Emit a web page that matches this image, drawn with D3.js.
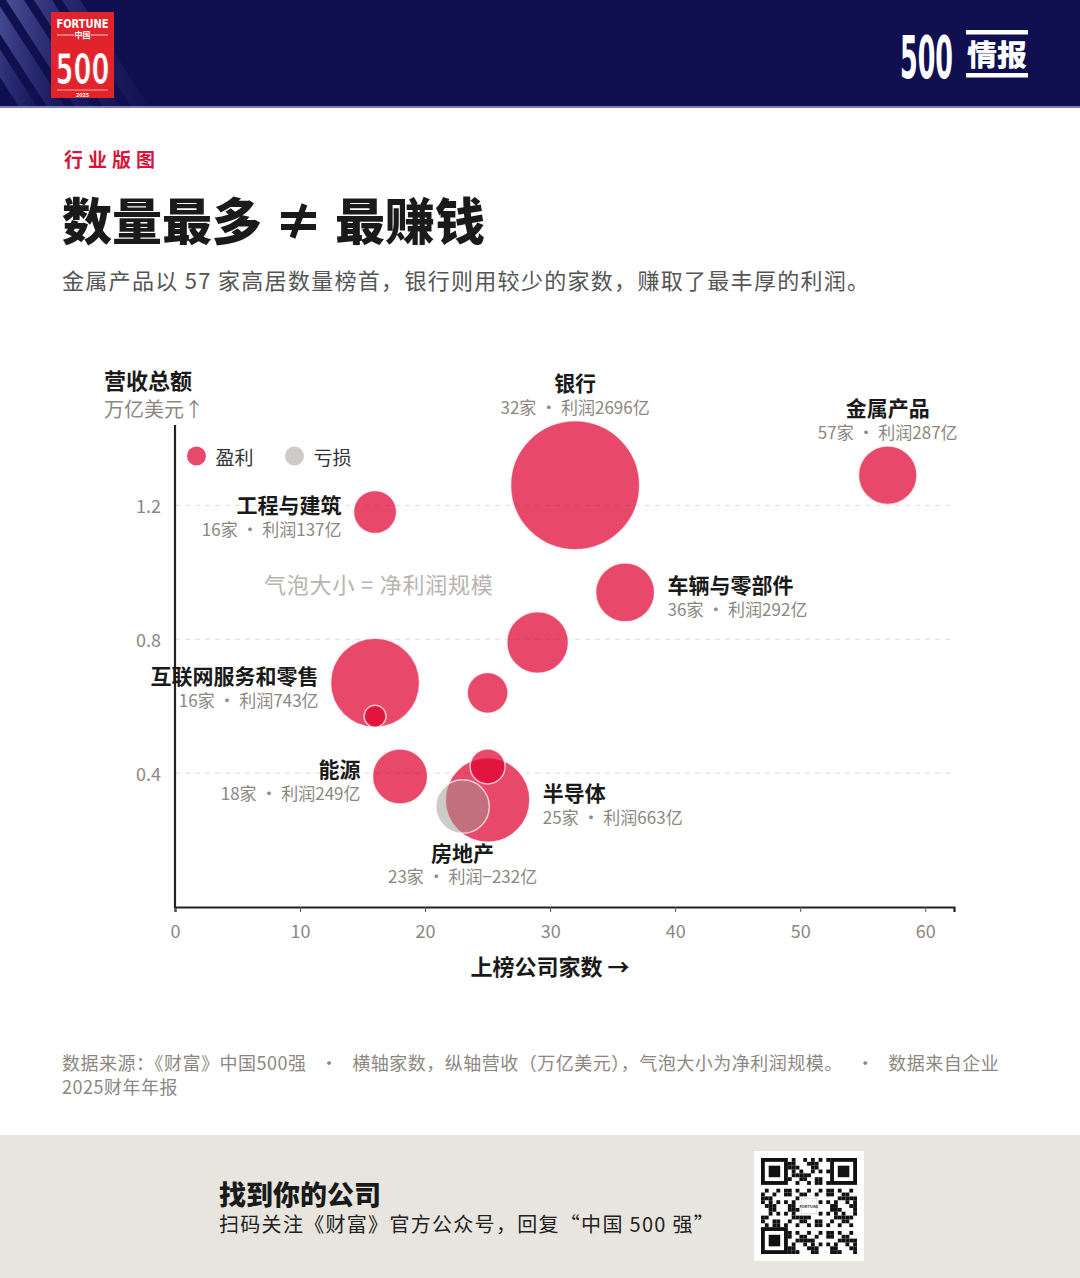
<!DOCTYPE html>
<html>
<head>
<meta charset="utf-8">
<script src="https://cdn.jsdelivr.net/npm/d3@7"></script>
<style>
  html, body { margin: 0; padding: 0; background: #fff; }
  svg { display: block; }
</style>
</head>
<body>
<div id="chart"></div>
<script>
// DATA
const industries = ['银行', '金属产品', '工程与建筑', '车辆与零部件', '', '互联网服务和零售', '', '能源', '半导体', '房地产', '', ''];
const companyCounts = [32, 57, 16, 36, 29, 16, 25, 18, 25, 23, 16, 25];
const revenueTrillion = [1.26, 1.29, 1.18, 0.94, 0.79, 0.67, 0.64, 0.39, 0.32, 0.30, 0.57, 0.42];
const profitYi = [2696, 287, 137, 292, 324, 743, 120, 249, 663, -232, 21, 81];
const xTicks = [0, 10, 20, 30, 40, 50, 60];
const yTicks = [0.4, 0.8, 1.2];
const legendLabels = ['盈利', '亏损'];

const FONT = "'Noto Sans CJK SC', 'Noto Sans', sans-serif";
const CONDENSED = "'DejaVu Sans Condensed', 'DejaVu Sans', sans-serif";
const RED = '#df0231';
const GREY = '#9b9890';
const INK = '#1a1a1a';
const MUTED = '#8c8782';

const width = 1080;
const height = 1278;

const svg = d3.select('#chart')
  .append('svg')
  .attr('width', width)
  .attr('height', height)
  .attr('viewBox', '0 0 ' + width + ' ' + height)
  .style('font-family', FONT);

// squeeze a text horizontally to a target width (condensed display type)
function fitText(parent, str, left, baseline, size, targetWidth, weight) {
  const g = parent.append('g');
  const t = g.append('text').attr('x', 0).attr('y', 0)
    .attr('fill', '#fff').attr('font-size', size).attr('font-weight', weight || 700)
    .style('font-family', CONDENSED)
    .text(str);
  const w = t.node().getComputedTextLength() || targetWidth;
  g.attr('transform', 'translate(' + left + ',' + baseline + ') scale(' + (targetWidth / w) + ',1)');
  return t;
}

// ---------- header band ----------
const header = svg.append('g');
header.append('rect').attr('width', width).attr('height', 108).attr('fill', '#100f4f');

const defs = svg.append('defs');
const stripeGrad = defs.append('linearGradient').attr('id', 'stripeGrad')
  .attr('x1', '0%').attr('x2', '100%').attr('y1', '0%').attr('y2', '0%');
stripeGrad.append('stop').attr('offset', '0%').attr('stop-color', '#7d88d6').attr('stop-opacity', 1);
stripeGrad.append('stop').attr('offset', '100%').attr('stop-color', '#4a52a8').attr('stop-opacity', 0.15);

// diagonal light stripes on the left of the header
[-10, 18, 46, 74, 102].forEach((off, i) => {
  header.append('polygon')
    .attr('points', [[off - 40, 0], [off - 22, 0], [off + 48, 108], [off + 30, 108]].map((p) => p.join(',')).join(' '))
    .attr('fill', 'url(#stripeGrad)')
    .attr('opacity', 0.8 - i * 0.14);
});
header.append('rect').attr('y', 106).attr('width', width).attr('height', 2).attr('fill', '#7c80b8');

// fortune logo
const logo = header.append('g').attr('transform', 'translate(51,12)');
logo.append('rect').attr('width', 63).attr('height', 86).attr('fill', '#e3232c');
fitText(logo, 'FORTUNE', 5.5, 16, 13, 52, 700);
logo.append('line').attr('x1', 6).attr('x2', 23).attr('y1', 23).attr('y2', 23).attr('stroke', '#fff').attr('stroke-width', 0.8);
logo.append('line').attr('x1', 40).attr('x2', 57).attr('y1', 23).attr('y2', 23).attr('stroke', '#fff').attr('stroke-width', 0.8);
logo.append('text').attr('x', 31.5).attr('y', 26).attr('text-anchor', 'middle')
  .attr('fill', '#fff').attr('font-size', 8).attr('font-weight', 700).text('中国');
fitText(logo, '500', 4.5, 72, 42, 54, 700)
  .attr('stroke', '#e3232c').attr('stroke-width', 1.2).attr('paint-order', 'fill');
logo.append('line').attr('x1', 6).attr('x2', 57).attr('y1', 78).attr('y2', 78).attr('stroke', '#fff').attr('stroke-width', 0.6);
logo.append('text').attr('x', 31.5).attr('y', 84.5).attr('text-anchor', 'middle')
  .attr('fill', '#fff').attr('font-size', 5.5).attr('font-weight', 700).text('2025');

// "500 情报" mark
fitText(header, '500', 900, 78, 58, 53, 700);
header.append('rect').attr('x', 966).attr('y', 30).attr('width', 62).attr('height', 4.5).attr('fill', '#fff');
header.append('rect').attr('x', 966).attr('y', 73).attr('width', 62).attr('height', 4.5).attr('fill', '#fff');
header.append('text').attr('x', 967).attr('y', 66)
  .attr('fill', '#fff').attr('font-size', 29).attr('font-weight', 900)
  .attr('textLength', 60).attr('lengthAdjust', 'spacingAndGlyphs')
  .text('情报');

// ---------- titles ----------
svg.append('text').attr('x', 64).attr('y', 167)
  .attr('fill', '#d9143a').attr('font-size', 19).attr('font-weight', 700)
  .attr('letter-spacing', 5)
  .text('行业版图');
svg.append('text').attr('x', 62).attr('y', 240)
  .attr('fill', INK).attr('font-size', 50).attr('font-weight', 900)
  .text('数量最多 ≠ 最赚钱');
svg.append('text').attr('x', 62).attr('y', 289)
  .attr('fill', '#555').attr('font-size', 22)
  .attr('letter-spacing', 1.3)
  .text('金属产品以 57 家高居数量榜首，银行则用较少的家数，赚取了最丰厚的利润。');

// ---------- scales ----------
const x = d3.scaleLinear().domain([0, 62.3]).range([175, 954]);
const y = d3.scaleLinear().domain([0, 1.44]).range([907, 425]);
const r = d3.scaleSqrt().domain([0, 1665]).range([4.2, 64.5]).clamp(true);

const bubbles = industries.map((name, i) => ({
  name: name,
  count: companyCounts[i],
  revenue: revenueTrillion[i],
  profit: profitYi[i]
}));

const plot = svg.append('g');

// dashed grid lines
plot.selectAll('.grid')
  .data(yTicks)
  .enter().append('line')
  .attr('class', 'grid')
  .attr('x1', x(0)).attr('x2', x(62.3))
  .attr('y1', (d) => y(d)).attr('y2', (d) => y(d))
  .attr('stroke', '#dedcd8').attr('stroke-width', 1)
  .attr('stroke-dasharray', '5,5');

// y tick labels
plot.selectAll('.ylab')
  .data(yTicks)
  .enter().append('text')
  .attr('class', 'ylab')
  .attr('x', x(0) - 14).attr('y', (d) => y(d))
  .attr('text-anchor', 'end').attr('dominant-baseline', 'central')
  .attr('fill', MUTED).attr('font-size', 18)
  .text((d) => d.toFixed(1));

// bubbles, largest first so small ones stay visible
const drawOrder = bubbles.slice().sort((a, b) => r(Math.abs(b.profit)) - r(Math.abs(a.profit)));
plot.selectAll('.bubble')
  .data(drawOrder)
  .enter().append('circle')
  .attr('class', 'bubble')
  .attr('cx', (d) => x(d.count))
  .attr('cy', (d) => y(d.revenue))
  .attr('r', (d) => r(Math.abs(d.profit)))
  .attr('fill', (d) => d.profit < 0 ? GREY : RED)
  .attr('fill-opacity', (d) => d.profit < 0 ? 0.5 : 0.72)
  .attr('stroke', '#fff').attr('stroke-opacity', 0.7).attr('stroke-width', 1.5);

// axes
const xAxis = d3.axisBottom(x).tickValues(xTicks).tickSize(5).tickPadding(13);
const gx = plot.append('g').attr('transform', 'translate(0,' + y(0) + ')').call(xAxis);
gx.select('.domain').attr('stroke', '#222').attr('stroke-width', 2.2);
gx.selectAll('.tick line').attr('stroke', '#555');
gx.selectAll('.tick text').attr('fill', MUTED).attr('font-size', 18).style('font-family', FONT);

plot.append('line')
  .attr('x1', x(0)).attr('x2', x(0))
  .attr('y1', y(1.44)).attr('y2', y(0) + 1)
  .attr('stroke', '#222').attr('stroke-width', 2.2);

// axis titles
svg.append('text').attr('x', 104).attr('y', 379).attr('dominant-baseline', 'central')
  .attr('fill', INK).attr('font-size', 22).attr('font-weight', 700).text('营收总额');
svg.append('text').attr('x', 104).attr('y', 408).attr('dominant-baseline', 'central')
  .attr('fill', MUTED).attr('font-size', 20).text('万亿美元↑');
svg.append('text').attr('x', 550).attr('y', 965).attr('dominant-baseline', 'central')
  .attr('text-anchor', 'middle')
  .attr('fill', INK).attr('font-size', 22).attr('font-weight', 700).text('上榜公司家数 →');

// legend
const legend = svg.append('g');
legendLabels.forEach((lab, i) => {
  const lx = 196.5 + i * 98;
  legend.append('circle').attr('cx', lx).attr('cy', 456).attr('r', 9.5)
    .attr('fill', i === 0 ? RED : GREY).attr('fill-opacity', i === 0 ? 0.72 : 0.5);
  legend.append('text').attr('x', lx + 19).attr('y', 456).attr('dominant-baseline', 'central')
    .attr('fill', '#333').attr('font-size', 19).text(lab);
});

svg.append('text').attr('x', 264).attr('y', 583).attr('dominant-baseline', 'central')
  .attr('fill', '#b7b4af').attr('font-size', 22).attr('letter-spacing', 0.8)
  .text('气泡大小 = 净利润规模');

// bubble labels -- side of the bubble each label sits on
const labelSide = {
  '银行': 'top', '金属产品': 'top', '工程与建筑': 'left', '车辆与零部件': 'right',
  '互联网服务和零售': 'left', '能源': 'left', '半导体': 'right', '房地产': 'bottom'
};

const labels = svg.append('g');
bubbles.filter((d) => d.name).forEach((d) => {
  const cx = x(d.count);
  const cy = y(d.revenue);
  const rad = r(Math.abs(d.profit));
  const side = labelSide[d.name];
  let tx = cx, ny = cy, sy = cy, anchor = 'middle';
  if (side === 'top') { ny = cy - rad - 38.5; sy = cy - rad - 14.5; }
  if (side === 'bottom') { ny = cy + rad + 18.5; sy = cy + rad + 42.5; }
  if (side === 'left') { tx = cx - rad - 12; anchor = 'end'; ny = cy - 8; sy = cy + 16.5; }
  if (side === 'right') { tx = cx + rad + 13; anchor = 'start'; ny = cy - 8; sy = cy + 16.5; }
  const profitTxt = d.profit < 0 ? '−' + Math.abs(d.profit) : d.profit;
  labels.append('text').attr('x', tx).attr('y', ny)
    .attr('text-anchor', anchor).attr('dominant-baseline', 'central')
    .attr('fill', INK).attr('font-size', 21).attr('font-weight', 700)
    .text(d.name);
  labels.append('text').attr('x', tx).attr('y', sy)
    .attr('text-anchor', anchor).attr('dominant-baseline', 'central')
    .attr('fill', MUTED).attr('font-size', 17)
    .text(d.count + '家 · 利润' + profitTxt + '亿');
});

// ---------- footnote ----------
svg.append('text').attr('x', 62).attr('y', 1062).attr('dominant-baseline', 'central')
  .attr('fill', MUTED).attr('font-size', 18).attr('letter-spacing', 0.5)
  .text('数据来源：《财富》中国500强 \u00a0\u00a0·\u00a0\u00a0 横轴家数，纵轴营收（万亿美元），气泡大小为净利润规模。 \u00a0\u00a0·\u00a0\u00a0 数据来自企业');
svg.append('text').attr('x', 62).attr('y', 1086).attr('dominant-baseline', 'central')
  .attr('fill', MUTED).attr('font-size', 18).attr('letter-spacing', 0.5)
  .text('2025财年年报');

// ---------- bottom band ----------
svg.append('rect').attr('y', 1135).attr('width', width).attr('height', height - 1135).attr('fill', '#e8e5de');
svg.append('text').attr('x', 219).attr('y', 1193).attr('dominant-baseline', 'central')
  .attr('fill', INK).attr('font-size', 27).attr('font-weight', 900).text('找到你的公司');
svg.append('text').attr('x', 219).attr('y', 1223).attr('dominant-baseline', 'central')
  .attr('fill', '#222').attr('font-size', 20).attr('letter-spacing', 1.3)
  .text('扫码关注《财富》官方公众号，回复“中国 500 强”');

// qr code (decorative)
const qr = svg.append('g').attr('transform', 'translate(754,1151)');
qr.append('rect').attr('width', 110).attr('height', 110).attr('fill', '#fff');
const cells = 25;
const cell = 96 / cells;
const qrg = qr.append('g').attr('transform', 'translate(7,7)');
function finder(i, j) {
  const corners = [[0, 0], [0, cells - 7], [cells - 7, 0]];
  return corners.some(([a, b]) => i >= a && i < a + 7 && j >= b && j < b + 7);
}
for (let i = 0; i < cells; i++) {
  for (let j = 0; j < cells; j++) {
    if (finder(i, j)) continue;
    if (i > 9 && i < 15 && j > 9 && j < 15) continue;
    const on = ((i * 31 + j * 17 + i * j * 7) % 11) < 5;
    if (on) {
      qrg.append('rect').attr('x', j * cell).attr('y', i * cell)
        .attr('width', cell).attr('height', cell).attr('fill', '#111');
    }
  }
}
[[0, 0], [0, cells - 7], [cells - 7, 0]].forEach(([a, b]) => {
  qrg.append('rect').attr('x', b * cell).attr('y', a * cell).attr('width', 7 * cell).attr('height', 7 * cell).attr('fill', '#111');
  qrg.append('rect').attr('x', (b + 1) * cell).attr('y', (a + 1) * cell).attr('width', 5 * cell).attr('height', 5 * cell).attr('fill', '#fff');
  qrg.append('rect').attr('x', (b + 2) * cell).attr('y', (a + 2) * cell).attr('width', 3 * cell).attr('height', 3 * cell).attr('fill', '#111');
});
qrg.append('rect').attr('x', 10.5 * cell).attr('y', 10.5 * cell).attr('width', 4 * cell).attr('height', 4 * cell)
  .attr('fill', '#fff').attr('stroke', '#ddd');
qrg.append('text').attr('x', 12.5 * cell).attr('y', 12.5 * cell).attr('text-anchor', 'middle')
  .attr('dominant-baseline', 'central').attr('font-size', 4).attr('font-weight', 700)
  .attr('fill', '#333').text('FORTUNE');
</script>
</body>
</html>
